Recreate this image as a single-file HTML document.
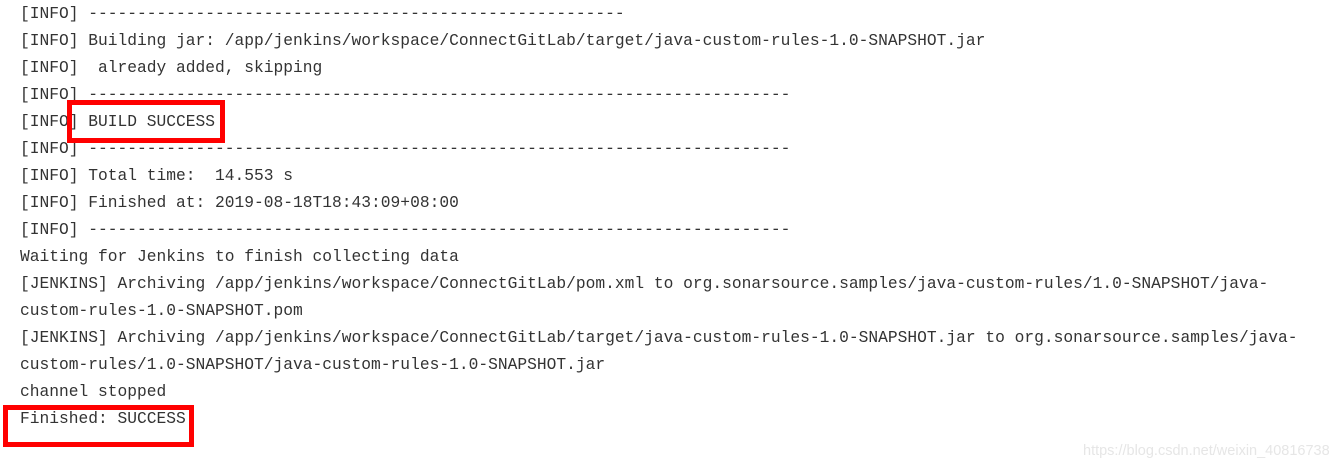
<!DOCTYPE html>
<html><head><meta charset="utf-8"><style>
html,body{margin:0;padding:0;background:#fff;width:1339px;height:469px;overflow:hidden;position:relative}
pre{margin:0;position:absolute;left:20px;top:0;font-family:"Liberation Mono",monospace;font-size:16.25px;line-height:27px;color:#333;white-space:pre}
.box{position:absolute;border:5px solid #f00;box-sizing:border-box}
.wm{position:absolute;left:1083px;top:443px;font-family:"Liberation Sans",sans-serif;font-size:14.5px;color:#e6e6e6}
</style></head><body>
<pre>[INFO] -------------------------------------------------------
[INFO] Building jar: /app/jenkins/workspace/ConnectGitLab/target/java-custom-rules-1.0-SNAPSHOT.jar
[INFO]  already added, skipping
[INFO] ------------------------------------------------------------------------
[INFO] BUILD SUCCESS
[INFO] ------------------------------------------------------------------------
[INFO] Total time:  14.553 s
[INFO] Finished at: 2019-08-18T18:43:09+08:00
[INFO] ------------------------------------------------------------------------
Waiting for Jenkins to finish collecting data
[JENKINS] Archiving /app/jenkins/workspace/ConnectGitLab/pom.xml to org.sonarsource.samples/java-custom-rules/1.0-SNAPSHOT/java-
custom-rules-1.0-SNAPSHOT.pom
[JENKINS] Archiving /app/jenkins/workspace/ConnectGitLab/target/java-custom-rules-1.0-SNAPSHOT.jar to org.sonarsource.samples/java-
custom-rules/1.0-SNAPSHOT/java-custom-rules-1.0-SNAPSHOT.jar
channel stopped
Finished: SUCCESS</pre>
<div class="box" style="left:67px;top:100px;width:158px;height:43px"></div>
<div class="box" style="left:3px;top:405px;width:191px;height:42px"></div>
<div class="wm">https://blog.csdn.net/weixin_40816738</div>
</body></html>
